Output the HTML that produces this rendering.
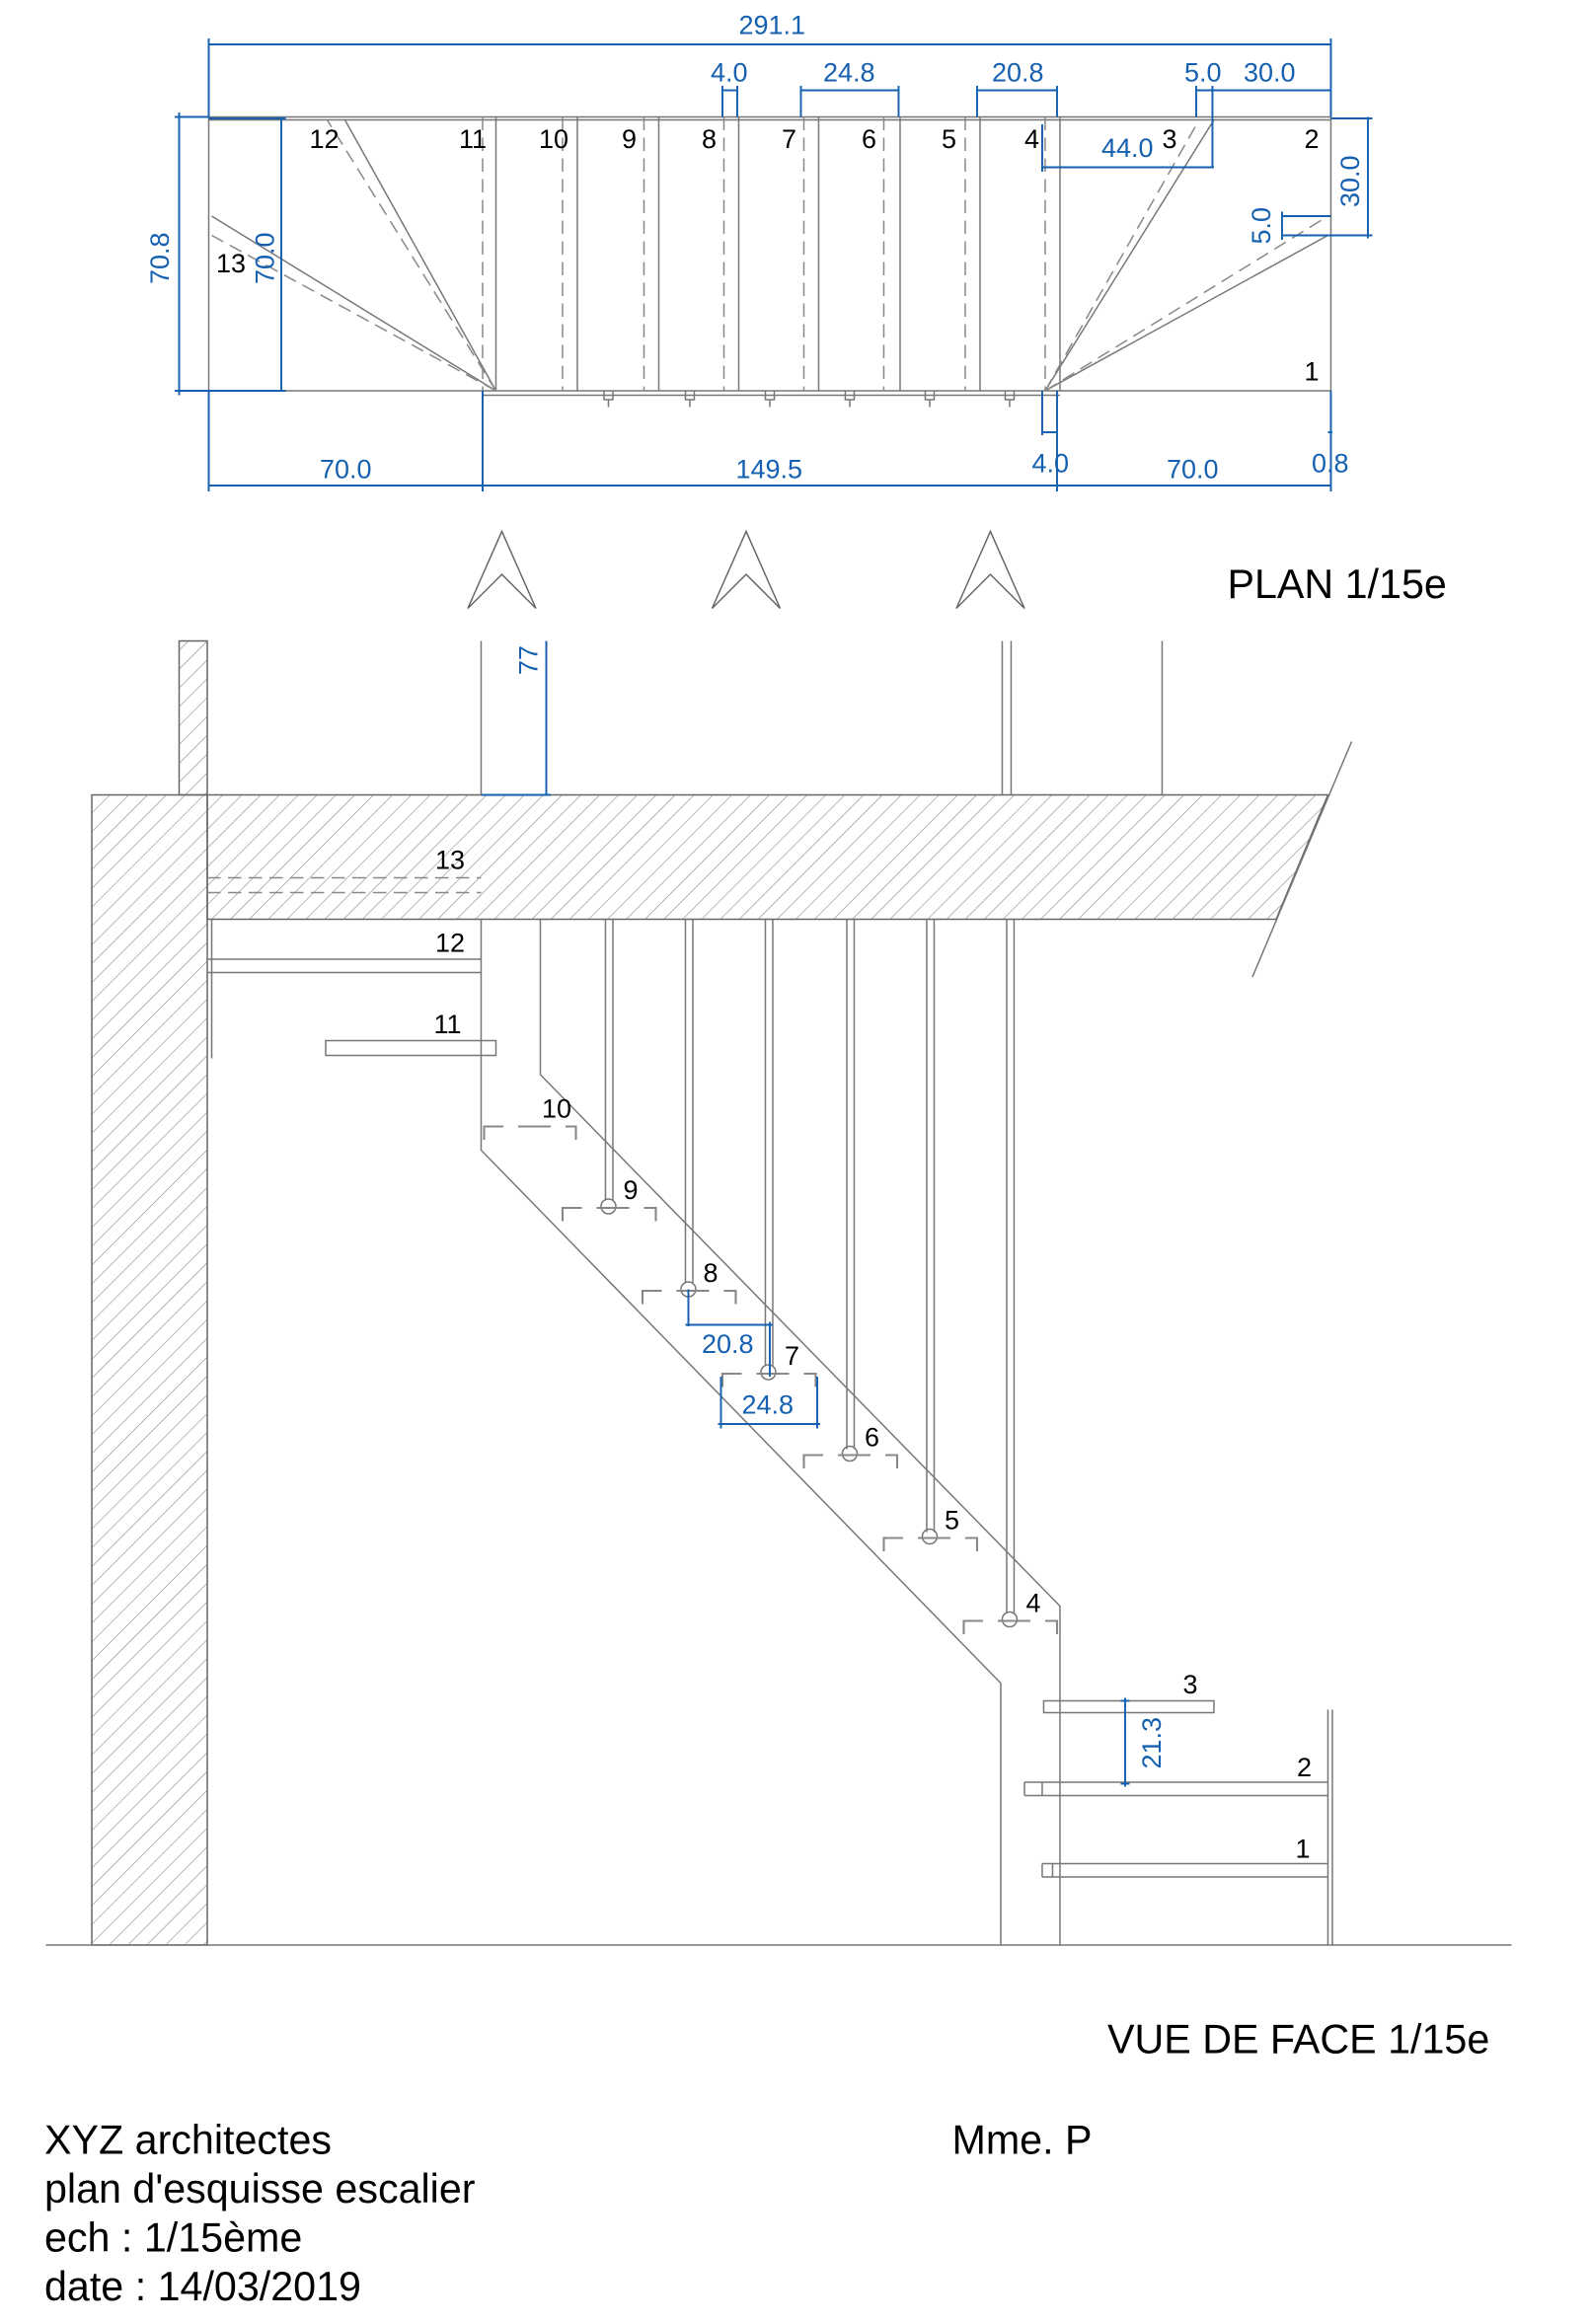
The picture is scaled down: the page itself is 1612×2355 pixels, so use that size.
<!DOCTYPE html>
<html><head><meta charset="utf-8"><style>
html,body{margin:0;padding:0;background:#fff;width:1612px;height:2355px;overflow:hidden}
svg{display:block}
text{font-family:"Liberation Sans",Arial,sans-serif}
.b{fill:#1560b0;font-size:18px}
.k{fill:#000;font-size:18px}
.l{stroke:#777;stroke-width:1;fill:none}
.d{stroke:#888;stroke-width:1;fill:none;stroke-dasharray:9,5}
.bl{stroke:#1560b0;stroke-width:1.3;fill:none}
</style></head><body>
<svg width="1612" height="2355" viewBox="0 0 1074.7 1570" preserveAspectRatio="none">
<defs>
<pattern id="h" width="9" height="9" patternUnits="userSpaceOnUse" patternTransform="rotate(45)">
<line x1="0" y1="0" x2="0" y2="9" stroke="#888" stroke-width="0.8"/>
</pattern>
</defs>
<!-- PLAN -->
<rect x="141" y="79" width="758" height="185" class="l" stroke-width="1.5"/>
<line x1="141" y1="81" x2="899" y2="81" class="l"/>
<line x1="326" y1="267" x2="716" y2="267" class="l"/>
<g class="l">
<line x1="335" y1="79" x2="335" y2="264"/><line x1="390" y1="79" x2="390" y2="264"/><line x1="445" y1="79" x2="445" y2="264"/><line x1="499" y1="79" x2="499" y2="264"/><line x1="553" y1="79" x2="553" y2="264"/><line x1="608" y1="79" x2="608" y2="264"/><line x1="662" y1="79" x2="662" y2="264"/><line x1="716" y1="79" x2="716" y2="264"/>
<line x1="335" y1="264" x2="233" y2="81"/><line x1="335" y1="264" x2="143" y2="146"/>
<line x1="706" y1="264" x2="820" y2="81"/><line x1="706" y1="264" x2="897" y2="159"/>
</g>
<g class="d">
<line x1="326" y1="79" x2="326" y2="264"/><line x1="380" y1="79" x2="380" y2="264"/><line x1="435" y1="79" x2="435" y2="264"/><line x1="489" y1="79" x2="489" y2="264"/><line x1="543" y1="79" x2="543" y2="264"/><line x1="597" y1="79" x2="597" y2="264"/><line x1="652" y1="79" x2="652" y2="264"/><line x1="706" y1="79" x2="706" y2="264"/>
<line x1="335" y1="264" x2="221" y2="81"/><line x1="335" y1="264" x2="143" y2="159"/>
<line x1="706" y1="264" x2="810" y2="81"/><line x1="706" y1="264" x2="897" y2="146"/>
</g>
<g class="l">
<path d="M408 264v6h6v-6M411 270v5M463 264v6h6v-6M466 270v5M517 264v6h6v-6M520 270v5M571 264v6h6v-6M574 270v5M625 264v6h6v-6M628 270v5M679 264v6h6v-6M682 270v5"/>
</g>
<g class="k">
<text x="209" y="100">12</text><text x="310" y="100">11</text><text x="364" y="100">10</text><text x="420" y="100">9</text><text x="474" y="100">8</text><text x="528" y="100">7</text><text x="582" y="100">6</text><text x="636" y="100">5</text><text x="692" y="100">4</text><text x="785" y="100">3</text><text x="881" y="100">2</text><text x="881" y="257">1</text><text x="146" y="184">13</text>
</g>
<!-- plan dims -->
<g class="bl">
<line x1="141" y1="30" x2="899" y2="30"/><line x1="141" y1="26" x2="141" y2="79"/><line x1="899" y1="26" x2="899" y2="79"/>
<line x1="488" y1="61" x2="498" y2="61"/><line x1="488" y1="58" x2="488" y2="79"/><line x1="498" y1="58" x2="498" y2="79"/>
<line x1="541" y1="61" x2="607" y2="61"/><line x1="541" y1="58" x2="541" y2="79"/><line x1="607" y1="58" x2="607" y2="79"/>
<line x1="660" y1="61" x2="714" y2="61"/><line x1="660" y1="58" x2="660" y2="79"/><line x1="714" y1="58" x2="714" y2="79"/>
<line x1="808" y1="61" x2="899" y2="61"/><line x1="808" y1="58" x2="808" y2="79"/><line x1="819" y1="58" x2="819" y2="113"/>
<line x1="704" y1="113" x2="820" y2="113"/><line x1="704" y1="84" x2="704" y2="116"/>
<line x1="121" y1="76" x2="121" y2="267"/><line x1="118" y1="79" x2="141" y2="79"/><line x1="118" y1="264" x2="141" y2="264"/>
<line x1="190" y1="79" x2="190" y2="264"/><line x1="141" y1="80" x2="193" y2="80"/><line x1="141" y1="264" x2="193" y2="264"/>
<line x1="924" y1="79" x2="924" y2="161"/><line x1="899" y1="80" x2="927" y2="80"/><line x1="866" y1="159" x2="927" y2="159"/>
<line x1="866" y1="146" x2="899" y2="146"/><line x1="866" y1="143" x2="866" y2="162"/>
<line x1="141" y1="328" x2="899" y2="328"/><line x1="141" y1="264" x2="141" y2="332"/><line x1="326" y1="264" x2="326" y2="332"/><line x1="714" y1="264" x2="714" y2="332"/><line x1="899" y1="264" x2="899" y2="332"/>
<line x1="704" y1="264" x2="704" y2="294"/><line x1="704" y1="292" x2="714" y2="292"/><line x1="897" y1="292" x2="900" y2="292"/>
</g>
<g class="b">
<text x="499" y="23">291.1</text><text x="480" y="55">4.0</text><text x="556" y="55">24.8</text><text x="670" y="55">20.8</text><text x="800" y="55">5.0</text><text x="840" y="55">30.0</text>
<text x="744" y="106">44.0</text>
<text x="216" y="323">70.0</text><text x="497" y="323">149.5</text><text x="697" y="319">4.0</text><text x="788" y="323">70.0</text><text x="886" y="319">0.8</text>
<text transform="translate(114,192) rotate(-90)">70.8</text>
<text transform="translate(185,192) rotate(-90)">70.0</text>
<text transform="translate(918,140) rotate(-90)">30.0</text>
<text transform="translate(858,165) rotate(-90)">5.0</text>
</g>
<!-- arrows -->
<g stroke="#666" fill="none" stroke-width="1">
<path d="M316 411L339 359L362 411L339 388Z"/><path d="M481 411L504 359L527 411L504 388Z"/><path d="M646 411L669 359L692 411L669 388Z"/>
</g>
<text x="829" y="404" font-size="27.5" fill="#000">PLAN 1/15e</text>
<!-- FRONT VIEW -->
<rect x="62" y="537" width="78" height="777" fill="url(#h)" stroke="#666"/>
<rect x="121" y="433" width="19" height="104" fill="url(#h)" stroke="#666"/>
<path d="M140 537H897L862 621H140Z" fill="url(#h)" stroke="#666"/>
<line x1="913" y1="501" x2="846" y2="660" class="l"/>
<g class="l">
<line x1="325" y1="433" x2="325" y2="537"/><line x1="677" y1="433" x2="677" y2="537"/><line x1="683" y1="433" x2="683" y2="537"/><line x1="785" y1="433" x2="785" y2="537"/>
<line x1="143" y1="621" x2="143" y2="715"/>
<line x1="140" y1="648" x2="325" y2="648"/><line x1="140" y1="657" x2="325" y2="657"/>
<rect x="220" y="703" width="115" height="10"/>
<path d="M325 621V777L672 1133L676 1137V1314"/>
<path d="M365 621V726L716 1085V1314"/>
<rect x="705" y="1149" width="115" height="8"/>
<path d="M692 1204H897M692 1213H897M692 1204V1213M704 1204V1213"/>
<path d="M704 1259H897M704 1268H897M704 1259V1268M711 1259V1268"/>
<line x1="897" y1="1155" x2="897" y2="1314"/><line x1="900" y1="1155" x2="900" y2="1314"/>
<line x1="31" y1="1314" x2="1021" y2="1314"/>
</g>
<line x1="369" y1="433" x2="369" y2="537" class="bl"/><line x1="325" y1="537" x2="372" y2="537" class="bl"/>
<text class="b" transform="translate(363,456) rotate(-90)">77</text>
<g class="d"><line x1="140" y1="593" x2="325" y2="593"/><line x1="140" y1="603" x2="325" y2="603"/></g>
<g class="l">
<line x1="409" y1="621" x2="409" y2="811"/><line x1="414" y1="621" x2="414" y2="811"/>
<line x1="463" y1="621" x2="463" y2="867"/><line x1="468" y1="621" x2="468" y2="867"/>
<line x1="517" y1="621" x2="517" y2="923"/><line x1="522" y1="621" x2="522" y2="923"/>
<line x1="572" y1="621" x2="572" y2="979"/><line x1="577" y1="621" x2="577" y2="979"/>
<line x1="626" y1="621" x2="626" y2="1035"/><line x1="631" y1="621" x2="631" y2="1035"/>
<line x1="680" y1="621" x2="680" y2="1090"/><line x1="685" y1="621" x2="685" y2="1090"/>
<circle cx="411" cy="815" r="5"/><circle cx="465" cy="871" r="5"/><circle cx="519" cy="927" r="5"/><circle cx="574" cy="982" r="5"/><circle cx="628" cy="1038" r="5"/><circle cx="682" cy="1094" r="5"/>
</g>
<g stroke="#888" fill="none" stroke-width="1.4" stroke-dasharray="22,10">
<path d="M327 770V761H389V770"/>
<path d="M380 825V816H443V825"/><path d="M434 881V872H497V881"/><path d="M488 937V928H551V937"/><path d="M543 992V983H606V992"/><path d="M597 1048V1039H660V1048"/><path d="M651 1104V1095H714V1104"/>
</g>
<g class="k">
<text x="294" y="587">13</text><text x="294" y="643">12</text><text x="293" y="698">11</text><text x="366" y="755">10</text><text x="421" y="810">9</text><text x="475" y="866">8</text><text x="530" y="922">7</text><text x="584" y="977">6</text><text x="638" y="1033">5</text><text x="693" y="1089">4</text><text x="799" y="1144">3</text><text x="876" y="1200">2</text><text x="875" y="1255">1</text>
</g>
<g class="bl">
<line x1="465" y1="871" x2="465" y2="896"/><line x1="463" y1="895" x2="522" y2="895"/><line x1="520" y1="893" x2="520" y2="930"/>
<line x1="487" y1="930" x2="487" y2="965"/><line x1="552" y1="930" x2="552" y2="965"/><line x1="485" y1="962" x2="554" y2="962"/>
<line x1="760" y1="1147" x2="760" y2="1207"/><line x1="757" y1="1149" x2="763" y2="1149"/><line x1="757" y1="1205" x2="763" y2="1205"/>
</g>
<g class="b"><text x="474" y="914">20.8</text><text x="501" y="955">24.8</text><text transform="translate(784,1195) rotate(-90)">21.3</text></g>
<text x="748" y="1387" font-size="27.5" fill="#000">VUE DE FACE 1/15e</text>
<g font-size="27.5" fill="#000">
<text x="30" y="1455">XYZ architectes</text><text x="30" y="1488">plan d'esquisse escalier</text><text x="30" y="1521">ech : 1/15ème</text><text x="30" y="1554">date : 14/03/2019</text>
<text x="643" y="1455">Mme. P</text>
</g>
</svg>
</body></html>
